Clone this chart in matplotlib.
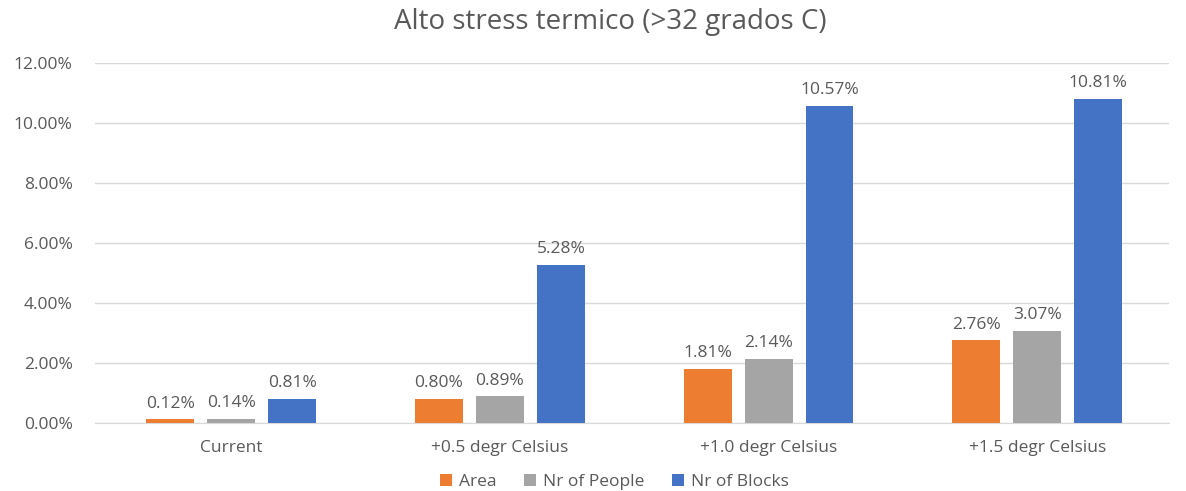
import numpy as np
import matplotlib.pyplot as plt
from matplotlib.ticker import PercentFormatter

categories = ['Current', '+0.5 degr Celsius', '+1.0 degr Celsius', '+1.5 degr Celsius']
series_names = ['Area', 'Nr of People', 'Nr of Blocks']
area = [0.12, 0.80, 1.81, 2.76]
people = [0.14, 0.89, 2.14, 3.07]
blocks = [0.81, 5.28, 10.57, 10.81]
colors = ['#ED7D31', '#A5A5A5', '#4472C4']

plt.rcParams['font.family'] = ['Open Sans', 'DejaVu Sans']
text_color = '#595959'

fig = plt.figure(figsize=(11.86, 4.91), dpi=100)
ax = fig.add_axes([0.080, 0.1385, 0.906, 0.7332])

x = np.arange(len(categories))
width = 0.178
step = 0.227
for i, (vals, name, c) in enumerate(zip([area, people, blocks], series_names, colors)):
    bars = ax.bar(x + (i - 1) * step + 0.008, vals, width, color=c, label=name, zorder=3)
    for b, v in zip(bars, vals):
        ax.text(b.get_x() + b.get_width() / 2, v + 0.25, f'{v:.2f}%',
                ha='center', va='bottom', fontsize=12.5, color=text_color)

ax.set_xlim(-0.5, 3.5)
ax.set_ylim(0, 12)
ax.set_yticks(np.arange(0, 12.1, 2))
ax.yaxis.set_major_formatter(PercentFormatter(decimals=2))
ax.set_xticks(x + 0.008)
ax.set_xticklabels(categories)
ax.tick_params(axis='both', length=0, labelsize=12.5, colors=text_color)
ax.tick_params(axis='x', pad=12)
ax.tick_params(axis='y', pad=16)
ax.grid(axis='y', color='#D9D9D9', linewidth=1, zorder=0)
for s in ['top', 'right', 'left']:
    ax.spines[s].set_visible(False)
ax.spines['bottom'].set_color('#D9D9D9')

fig.text(0.515, 0.955, 'Alto stress termico (>32 grados C)', ha='center', va='center',
         fontsize=20, color=text_color)

fig.legend(loc='center', bbox_to_anchor=(0.518, 0.018), ncol=3, frameon=False,
           fontsize=12.5, labelcolor=text_color, handlelength=0.7, handleheight=0.7,
           handletextpad=0.4, columnspacing=1.6)

fig.savefig('out.png', dpi=100)
